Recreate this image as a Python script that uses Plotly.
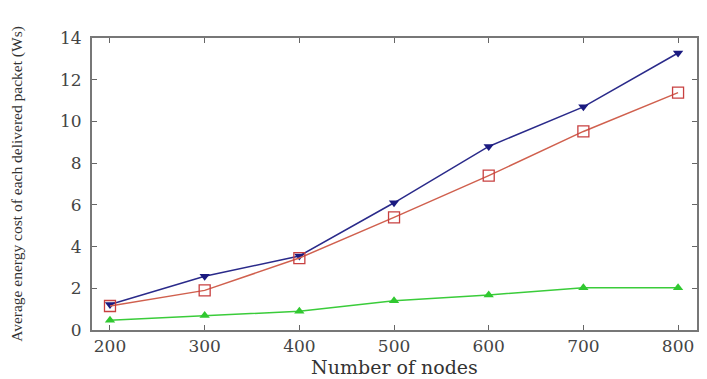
import plotly.graph_objects as go

nodes = [200, 300, 400, 500, 600, 700, 800]
series_blue = [1.22, 2.58, 3.55, 6.1, 8.8, 10.7, 13.28]
series_red = [1.15, 1.9, 3.45, 5.4, 7.4, 9.52, 11.38]
series_green = [0.47, 0.7, 0.9, 1.4, 1.68, 2.02, 2.02]

y_ticks = [0, 2, 4, 6, 8, 10, 12, 14]
x_ticks = [200, 300, 400, 500, 600, 700, 800]

fig = go.Figure()
fig.add_trace(go.Scatter(x=nodes, y=series_blue, mode="lines+markers",
                         line=dict(color="#2a2a8a", width=1.5),
                         marker=dict(symbol="triangle-down", size=9, color="#1a1a80")))
fig.add_trace(go.Scatter(x=nodes, y=series_red, mode="lines+markers",
                         line=dict(color="#d0604e", width=1.5),
                         marker=dict(symbol="square-open", size=11, color="#c84040",
                                     line=dict(width=1.3))))
fig.add_trace(go.Scatter(x=nodes, y=series_green, mode="lines+markers",
                         line=dict(color="#3acc3a", width=1.5),
                         marker=dict(symbol="triangle-up", size=9, color="#30c830")))

font = "Liberation Serif, DejaVu Serif, serif"
tfont = "DejaVu Serif, serif"
fig.update_layout(
    width=707, height=379,
    margin=dict(l=84, r=18, t=30, b=57, autoexpand=False),
    paper_bgcolor="white", plot_bgcolor="white",
    showlegend=False,
    font=dict(family=font, color="#444444"),
    xaxis=dict(range=[181, 820], tickvals=x_ticks, ticks="inside", ticklen=5,
               tickcolor="#666", showline=True, linecolor="#777", linewidth=2,
               mirror="ticks", showgrid=False, zeroline=False, automargin=False,
               tickfont=dict(size=17, family=tfont, color="#444"),
               title=dict(text="Number of nodes", font=dict(size=19, family=tfont, color="#333"),
                          standoff=0)),
    yaxis=dict(range=[0, 14], tickvals=y_ticks, ticks="inside", ticklen=5,
               tickcolor="#666", showline=True, linecolor="#777", linewidth=2,
               mirror="ticks", showgrid=False, zeroline=False, automargin=False,
               ticklabelstandoff=5,
               tickfont=dict(size=17, family=tfont, color="#444"),
               title=dict(text="Average energy cost of each delivered packet (Ws)",
                          font=dict(size=15.5, family=font, color="#333"), standoff=40)),
)

fig.write_html("out.html")
